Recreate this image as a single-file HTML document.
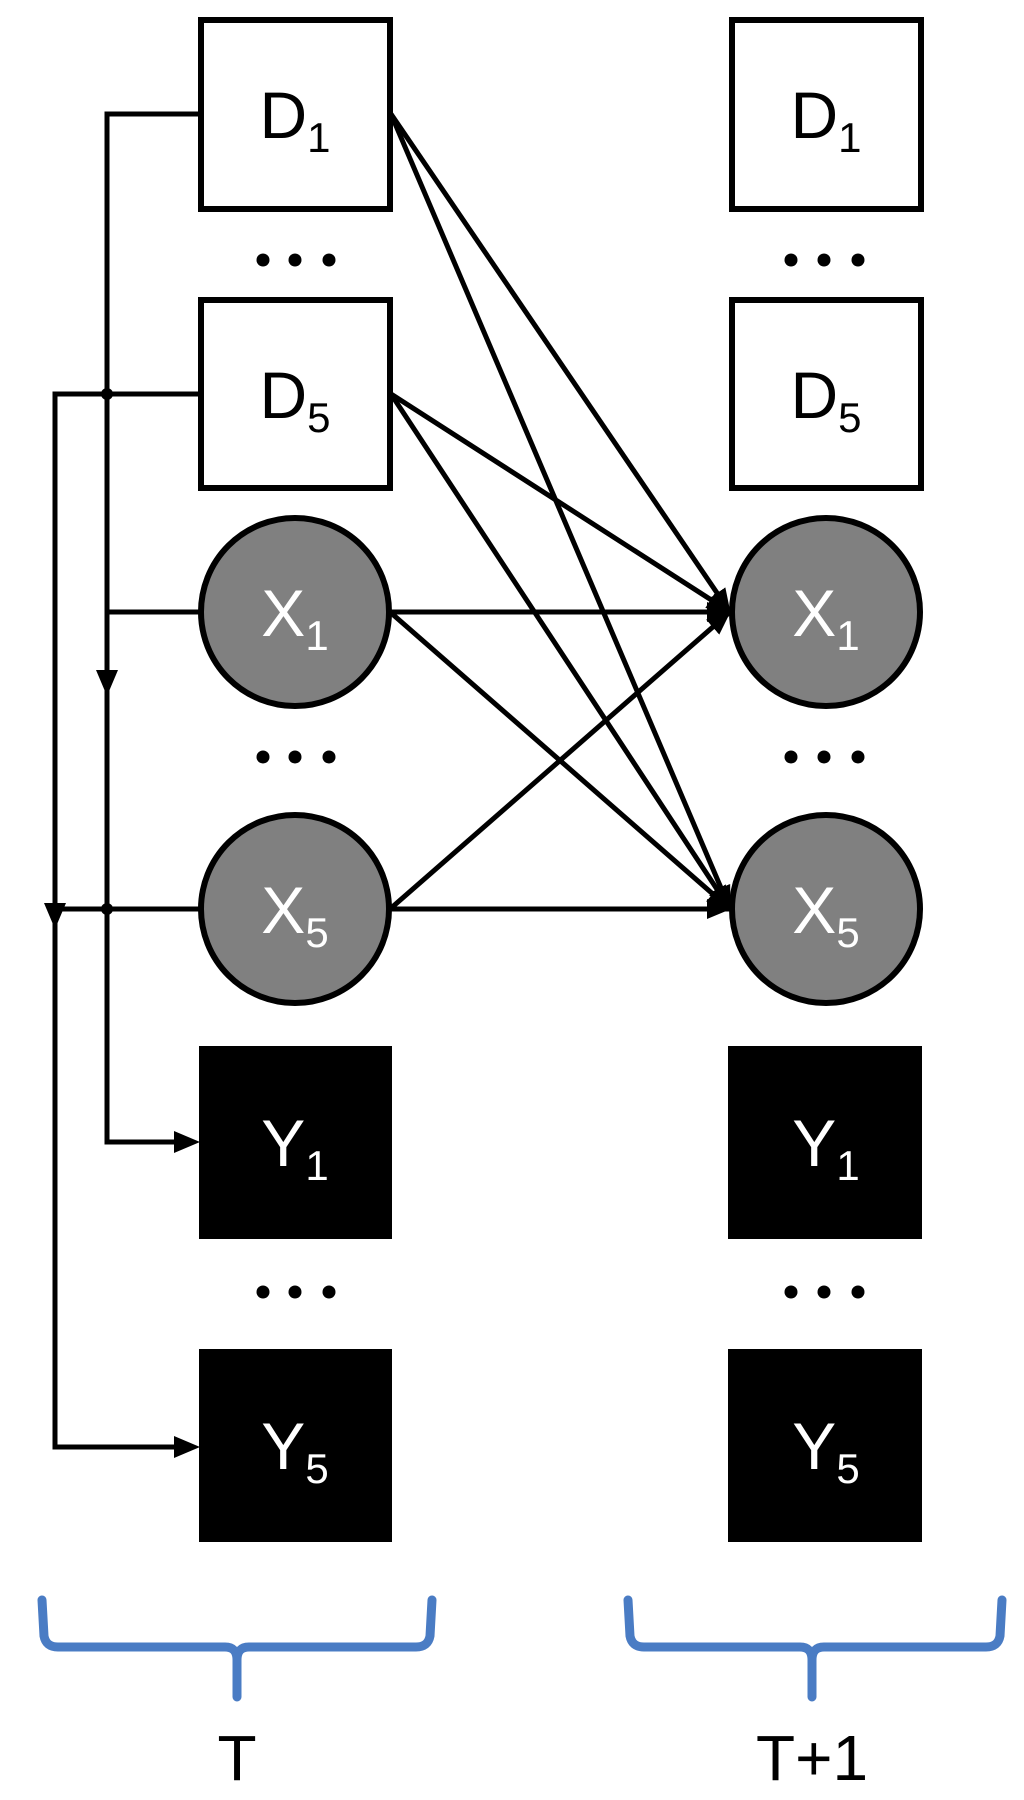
<!DOCTYPE html>
<html><head><meta charset="utf-8"><style>
html,body{margin:0;padding:0;background:#fff;}
svg{display:block;}
text{font-family:"Liberation Sans",sans-serif;}
</style></head><body>
<svg width="1024" height="1800" viewBox="0 0 1024 1800" xmlns="http://www.w3.org/2000/svg">
<defs>
<marker id="ah2" markerWidth="24" markerHeight="20" refX="23" refY="10" orient="auto" markerUnits="userSpaceOnUse">
<path d="M0,0 L24,10 L0,20 Z" fill="#000"/>
</marker>
</defs>

<!-- left feedback lines -->
<g stroke="#000" stroke-width="5" fill="none">
<polyline points="200,114 107,114 107,1142 180,1142"/>
<polyline points="200,394 55,394 55,1447 180,1447"/>
<line x1="201" y1="612" x2="107" y2="612"/>
<line x1="201" y1="909" x2="55" y2="909"/>
</g>
<path d="M174,1131 L200,1142 L174,1153 Z" fill="#000"/>
<path d="M174,1436 L200,1447 L174,1458 Z" fill="#000"/>
<path d="M96,670 L107,696 L118,670 Z" fill="#000"/>
<path d="M44,903 L55,929 L66,903 Z" fill="#000"/>
<circle cx="107" cy="394" r="6" fill="#000"/>
<circle cx="107" cy="909" r="6" fill="#000"/>

<!-- cross connections -->
<g stroke="#000" stroke-width="5" fill="none" marker-end="url(#ah2)">
<line x1="391" y1="114" x2="730" y2="612"/>
<line x1="391" y1="114" x2="730" y2="909"/>
<line x1="391" y1="394" x2="730" y2="612"/>
<line x1="391" y1="394" x2="730" y2="909"/>
<line x1="390" y1="612" x2="730" y2="612"/>
<line x1="390" y1="612" x2="730" y2="909"/>
<line x1="390" y1="909" x2="730" y2="612"/>
<line x1="390" y1="909" x2="730" y2="909"/>
</g>

<!-- left column -->
<g>
<rect x="201" y="20" width="189" height="189" fill="#fff" stroke="#000" stroke-width="6"/>
<rect x="201" y="300" width="189" height="188" fill="#fff" stroke="#000" stroke-width="6"/>
<circle cx="295" cy="612" r="94" fill="#808080" stroke="#000" stroke-width="6"/>
<circle cx="295" cy="909" r="94" fill="#808080" stroke="#000" stroke-width="6"/>
<rect x="199" y="1046" width="193" height="193" fill="#000"/>
<rect x="199" y="1349" width="193" height="193" fill="#000"/>
</g>
<!-- right column -->
<g>
<rect x="732" y="20" width="189" height="189" fill="#fff" stroke="#000" stroke-width="6"/>
<rect x="732" y="300" width="189" height="188" fill="#fff" stroke="#000" stroke-width="6"/>
<circle cx="826" cy="612" r="94" fill="#808080" stroke="#000" stroke-width="6"/>
<circle cx="826" cy="909" r="94" fill="#808080" stroke="#000" stroke-width="6"/>
<rect x="728" y="1046" width="194" height="193" fill="#000"/>
<rect x="728" y="1349" width="194" height="193" fill="#000"/>
</g>

<!-- dots -->
<g fill="#000">
<circle cx="263" cy="260" r="6.5"/><circle cx="295" cy="260" r="6.5"/><circle cx="329" cy="260" r="6.5"/>
<circle cx="263" cy="757" r="6.5"/><circle cx="295" cy="757" r="6.5"/><circle cx="329" cy="757" r="6.5"/>
<circle cx="263" cy="1292" r="6.5"/><circle cx="295" cy="1292" r="6.5"/><circle cx="329" cy="1292" r="6.5"/>
<circle cx="791" cy="260" r="6.5"/><circle cx="824" cy="260" r="6.5"/><circle cx="858" cy="260" r="6.5"/>
<circle cx="791" cy="757" r="6.5"/><circle cx="824" cy="757" r="6.5"/><circle cx="858" cy="757" r="6.5"/>
<circle cx="791" cy="1292" r="6.5"/><circle cx="824" cy="1292" r="6.5"/><circle cx="858" cy="1292" r="6.5"/>
</g>

<!-- labels -->
<g font-size="66" text-anchor="middle">
<text x="295" y="138" fill="#000">D<tspan font-size="42" dy="14">1</tspan></text>
<text x="295" y="418" fill="#000">D<tspan font-size="42" dy="14">5</tspan></text>
<text x="295" y="636" fill="#fff">X<tspan font-size="42" dy="14">1</tspan></text>
<text x="295" y="933" fill="#fff">X<tspan font-size="42" dy="14">5</tspan></text>
<text x="295" y="1166" fill="#fff">Y<tspan font-size="42" dy="14">1</tspan></text>
<text x="295" y="1469" fill="#fff">Y<tspan font-size="42" dy="14">5</tspan></text>
<text x="826" y="138" fill="#000">D<tspan font-size="42" dy="14">1</tspan></text>
<text x="826" y="418" fill="#000">D<tspan font-size="42" dy="14">5</tspan></text>
<text x="826" y="636" fill="#fff">X<tspan font-size="42" dy="14">1</tspan></text>
<text x="826" y="933" fill="#fff">X<tspan font-size="42" dy="14">5</tspan></text>
<text x="826" y="1166" fill="#fff">Y<tspan font-size="42" dy="14">1</tspan></text>
<text x="826" y="1469" fill="#fff">Y<tspan font-size="42" dy="14">5</tspan></text>
</g>

<!-- braces -->
<g stroke="#4a7cc4" stroke-width="9" fill="none" stroke-linecap="round" stroke-linejoin="round">
<path d="M42,1600 L44,1636 Q46,1647 58,1647 L225,1647 Q237,1647 237,1660 L237,1697 M237,1660 Q237,1647 249,1647 L416,1647 Q428,1647 430,1636 L432,1600"/>
<path d="M628,1600 L630,1636 Q632,1647 644,1647 L800,1647 Q812,1647 812,1660 L812,1697 M812,1660 Q812,1647 824,1647 L986,1647 Q998,1647 1000,1636 L1002,1600"/>
</g>
<g font-size="64" text-anchor="middle" fill="#000">
<text x="237" y="1780">T</text>
<text x="812" y="1780">T+1</text>
</g>
</svg>
</body></html>
